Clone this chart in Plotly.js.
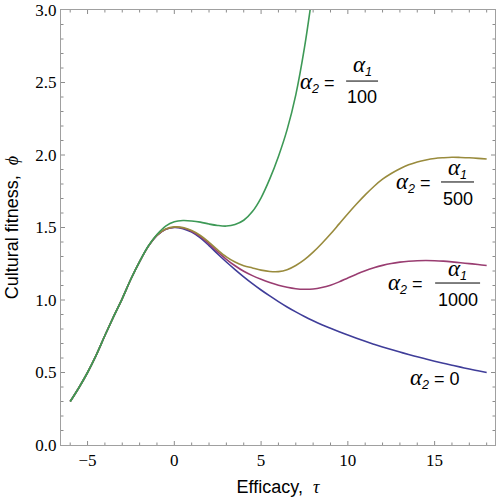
<!DOCTYPE html>
<html><head><meta charset="utf-8">
<script src="https://cdn.plot.ly/plotly-3.0.1.min.js"></script>
<style>html,body{margin:0;padding:0;background:#fff}</style>
</head><body><div id="chart" style="width:498px;height:500px"></div>
<script>
// Efficacy values (tau)
const tau = [-6,-5.5,-5,-4.5,-4,-3.5,-3,-2.5,-2,-1.5,-1,-0.5,0,0.5,1,1.5,2,2.5,3,3.5,4,4.5,5,5.5,6,6.5,7,7.5,8,8.5,9,9.5,10,10.5,11,11.5,12,12.5,13,13.5,14,14.5,15,15.5,16,16.5,17,17.5,18];
// alpha2 = 0
const phiA0 = [0.30,0.395,0.50,0.62,0.755,0.885,1.01,1.145,1.265,1.37,1.445,1.487,1.50,1.492,1.468,1.428,1.375,1.317,1.262,1.21,1.16,1.113,1.069,1.028,0.989,0.952,0.918,0.886,0.857,0.83,0.805,0.781,0.758,0.736,0.715,0.695,0.676,0.658,0.641,0.624,0.608,0.593,0.578,0.564,0.55,0.537,0.524,0.512,0.50];
// alpha2 = alpha1/1000
const phiA1000 = [0.30,0.395,0.50,0.62,0.755,0.885,1.01,1.145,1.265,1.37,1.446,1.488,1.502,1.496,1.474,1.437,1.387,1.332,1.281,1.236,1.198,1.168,1.143,1.121,1.102,1.088,1.078,1.074,1.076,1.086,1.102,1.125,1.152,1.178,1.202,1.222,1.239,1.252,1.261,1.267,1.271,1.272,1.271,1.268,1.263,1.257,1.251,1.245,1.238];
// alpha2 = alpha1/500
const phiA500 = [0.30,0.395,0.50,0.62,0.755,0.885,1.01,1.145,1.265,1.37,1.447,1.489,1.504,1.499,1.479,1.445,1.398,1.345,1.298,1.262,1.237,1.221,1.206,1.197,1.196,1.209,1.238,1.278,1.33,1.39,1.455,1.525,1.595,1.662,1.725,1.783,1.833,1.872,1.905,1.932,1.952,1.966,1.976,1.981,1.984,1.983,1.981,1.977,1.972];
// alpha2 = alpha1/100 (leaves the top of the plot)
const tauA100 = [-6,-5.5,-5,-4.5,-4,-3.5,-3,-2.5,-2,-1.5,-1,-0.5,0,0.5,1,1.5,2,2.5,3,3.5,4,4.5,5,5.5,6,6.5,7,7.5,8];
const phiA100 = [0.30,0.395,0.50,0.62,0.755,0.885,1.01,1.145,1.265,1.372,1.452,1.51,1.54,1.548,1.545,1.537,1.524,1.514,1.51,1.521,1.55,1.61,1.705,1.835,1.99,2.175,2.415,2.74,3.15];

const colors = ['rgb(63,61,153)','rgb(153,61,113)','rgb(153,139,61)','rgb(61,153,86)'];

const serif = 'Liberation Serif, Times New Roman, serif';
const sans = 'Liberation Sans, Arial, sans-serif';
const alpha = (i) => '<span style="font-family:Liberation Serif;font-size:23px"><i>α</i></span><sub><i>' + i + '</i></sub>';

const denominators = ['100','500','1000'];
const lhsX = [9.38, 14.91, 14.45];
const lhsY = [2.503, 1.807, 1.117];
const fracX = [10.82, 16.32, 16.32];
const numY = [2.62, 1.91, 1.207];
const denY = [2.40, 1.697, 1.0];
const barX0 = [9.90, 15.37, 15.03];
const barX1 = [11.74, 17.27, 17.62];
const barY = [2.51, 1.814, 1.117];

const traces = [
  {x: tau, y: phiA0, color: colors[0]},
  {x: tau, y: phiA1000, color: colors[1]},
  {x: tau, y: phiA500, color: colors[2]},
  {x: tauA100, y: phiA100, color: colors[3]}
].map(t => ({x: t.x, y: t.y, type: 'scatter', mode: 'lines',
  line: {color: t.color, width: 1.6, shape: 'spline', smoothing: 1}, showlegend: false, hoverinfo: 'skip'}));

const annotations = [];
const shapes = [];
for (let k = 0; k < 3; k++) {
  annotations.push({x: lhsX[k], y: lhsY[k], xref: 'x', yref: 'y', xanchor: 'right', yanchor: 'middle',
    text: alpha(2) + ' =', showarrow: false, font: {family: sans, size: 18, color: '#000'}});
  annotations.push({x: fracX[k], y: numY[k], xref: 'x', yref: 'y', xanchor: 'center', yanchor: 'middle',
    text: alpha(1), showarrow: false, font: {family: sans, size: 18, color: '#000'}});
  annotations.push({x: fracX[k], y: denY[k], xref: 'x', yref: 'y', xanchor: 'center', yanchor: 'middle',
    text: denominators[k], showarrow: false, font: {family: sans, size: 18, color: '#000'}});
  shapes.push({type: 'line', xref: 'x', yref: 'y', x0: barX0[k], x1: barX1[k], y0: barY[k], y1: barY[k],
    line: {color: '#000', width: 1}});
}
annotations.push({x: 15.0, y: 0.462, xref: 'x', yref: 'y', xanchor: 'center', yanchor: 'middle',
  text: alpha(2) + ' = 0', showarrow: false, font: {family: sans, size: 18, color: '#000'}});

// Mathematica-style frame ticks (inside, on all four sides)
const tickColor = '#8c8c8c';
for (let v = -6; v <= 18; v++) {
  const len = (v % 5 === 0) ? 4 : 2.5;
  shapes.push({type: 'line', xref: 'x', yref: 'paper', ysizemode: 'pixel', yanchor: 0, x0: v, x1: v, y0: 0, y1: len, line: {color: tickColor, width: 1}});
  shapes.push({type: 'line', xref: 'x', yref: 'paper', ysizemode: 'pixel', yanchor: 1, x0: v, x1: v, y0: 0, y1: -len, line: {color: tickColor, width: 1}});
}
for (let j = 1; j < 30; j++) {
  const v = j / 10;
  const len = (j % 5 === 0) ? 4 : 2.5;
  shapes.push({type: 'line', xref: 'paper', yref: 'y', xsizemode: 'pixel', xanchor: 0, y0: v, y1: v, x0: 0, x1: len, line: {color: tickColor, width: 1}});
  shapes.push({type: 'line', xref: 'paper', yref: 'y', xsizemode: 'pixel', xanchor: 1, y0: v, y1: v, x0: 0, x1: -len, line: {color: tickColor, width: 1}});
}

const frame = '#a0a0a0';
const layout = {
  width: 498, height: 500,
  margin: {l: 61, r: 3, t: 10, b: 55},
  paper_bgcolor: '#fff', plot_bgcolor: '#fff',
  xaxis: {
    range: [-6.53, 18.48], showline: true, linecolor: frame, linewidth: 1, mirror: true,
    ticks: '', tick0: 0, dtick: 5,
    showgrid: false, zeroline: false,
    tickfont: {family: serif, size: 17, color: '#000'},
    title: {text: 'Efficacy,  <span style="font-family:Liberation Serif"><i>τ</i></span>', font: {family: sans, size: 18, color: '#000'}, standoff: 10}
  },
  yaxis: {
    range: [0, 3], showline: true, linecolor: frame, linewidth: 1, mirror: true,
    ticks: '', tick0: 0, dtick: 0.5, tickformat: '.1f',
    showgrid: false, zeroline: false,
    tickfont: {family: serif, size: 17, color: '#000'},
    title: {text: 'Cultural fitness,  <span style="font-family:Liberation Serif"><i>ϕ</i></span>', font: {family: sans, size: 18, color: '#000'}, standoff: 12}
  },
  annotations: annotations,
  shapes: shapes
};

Plotly.newPlot('chart', traces, layout, {staticPlot: true, displayModeBar: false});
</script></body></html>
